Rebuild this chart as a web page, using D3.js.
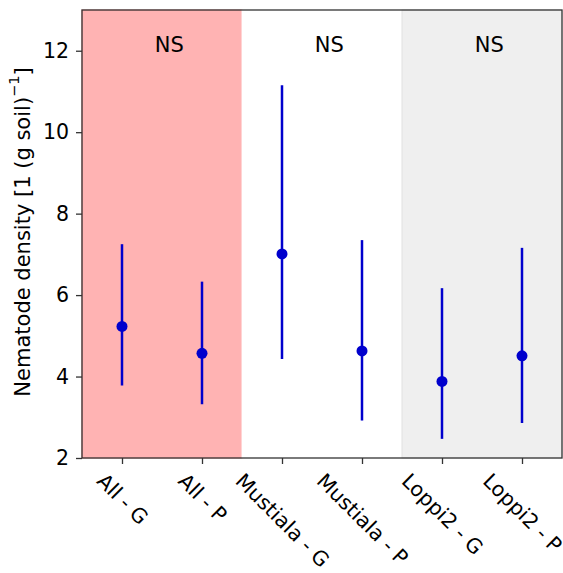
<!DOCTYPE html>
<html>
<head>
<meta charset="utf-8">
<script src="https://cdn.jsdelivr.net/npm/d3@7"></script>
<style>
  body { margin: 0; background: #fff; }
  text { font-family: "DejaVu Sans", sans-serif; fill: #000; }
</style>
</head>
<body>
<div id="chart"></div>
<script>
// data
const categories = ["All - G", "All - P", "Mustiala - G", "Mustiala - P", "Loppi2 - G", "Loppi2 - P"];
const means = [5.23, 4.57, 7.01, 4.63, 3.88, 4.51];
const lower = [3.78, 3.32, 4.43, 2.92, 2.47, 2.86];
const upper = [7.25, 6.33, 11.15, 7.35, 6.17, 7.16];
const groups = [
  { from: 0, to: 1, label: "NS", fill: "#ffb3b3", edge: "#ff9c9c" },
  { from: 2, to: 3, label: "NS", fill: "#ffffff", edge: "#ffffff" },
  { from: 4, to: 5, label: "NS", fill: "#efefef", edge: "#e2e2e2" }
];
const yTicks = [2, 4, 6, 8, 10, 12];

const W = 563, H = 573;
const margin = { top: 10, right: 1, bottom: 115, left: 82 };

const svg = d3.select("#chart").append("svg")
  .attr("width", W)
  .attr("height", H);

const x = d3.scaleLinear().domain([-0.5, 5.5]).range([margin.left, W - margin.right]);
const y = d3.scaleLinear().domain([2, 13]).range([H - margin.bottom, margin.top]);

// shaded spans
svg.selectAll(".span")
  .data(groups)
  .enter()
  .append("rect")
  .attr("x", d => x(d.from - 0.5))
  .attr("y", y(13))
  .attr("width", d => x(d.to + 0.5) - x(d.from - 0.5))
  .attr("height", y(2) - y(13))
  .attr("fill", d => d.fill)
  .attr("stroke", d => d.edge)
  .attr("stroke-width", 1);

// NS labels
svg.selectAll(".ns")
  .data(groups)
  .enter()
  .append("text")
  .attr("x", d => x((d.from + d.to) / 2 + 0.09))
  .attr("y", y(11.97))
  .attr("text-anchor", "middle")
  .style("font-size", "21px")
  .text(d => d.label);

// error bars
svg.selectAll(".err")
  .data(categories)
  .enter()
  .append("line")
  .attr("x1", (d, i) => x(i))
  .attr("x2", (d, i) => x(i))
  .attr("y1", (d, i) => y(lower[i]))
  .attr("y2", (d, i) => y(upper[i]))
  .attr("stroke", "#0000cd")
  .attr("stroke-width", 2.5);

svg.selectAll(".pt")
  .data(categories)
  .enter()
  .append("circle")
  .attr("cx", (d, i) => x(i))
  .attr("cy", (d, i) => y(means[i]))
  .attr("r", 5.5)
  .attr("fill", "#0000cd");

// axes
const yAxis = svg.append("g")
  .attr("transform", `translate(${margin.left},0)`)
  .call(d3.axisLeft(y).tickValues(yTicks).tickSize(6).tickPadding(7));

const xAxis = svg.append("g")
  .attr("transform", `translate(0,${H - margin.bottom})`)
  .call(d3.axisBottom(x).tickValues(d3.range(categories.length)).tickFormat(i => categories[i]).tickSize(6));

[yAxis, xAxis].forEach(g => {
  g.select(".domain").remove();
  g.selectAll(".tick line").attr("stroke", "#333").attr("stroke-width", 1.3);
  g.selectAll(".tick text").style("font-size", "20.5px").attr("fill", "#000");
});

// rotated x labels, bbox centered under tick
xAxis.selectAll(".tick text").each(function () {
  const t = d3.select(this);
  const len = this.getComputedTextLength();
  const half = (len + 15) / 2 * Math.SQRT1_2;
  const cy = 14 + half;
  t.attr("y", 0).attr("dy", null)
    .attr("text-anchor", "middle")
    .attr("dominant-baseline", "central")
    .attr("transform", `translate(0,${cy}) rotate(45)`);
});

// frame
svg.append("rect")
  .attr("x", x(-0.5))
  .attr("y", y(13))
  .attr("width", x(5.5) - x(-0.5))
  .attr("height", y(2) - y(13))
  .attr("fill", "none")
  .attr("stroke", "#333")
  .attr("stroke-width", 1.3);

// y label
svg.append("text")
  .attr("transform", `translate(23,${(y(2) + y(13)) / 2 - 2}) rotate(-90)`)
  .attr("text-anchor", "middle")
  .attr("dominant-baseline", "central")
  .style("font-size", "21px")
  .text("Nematode density [1 (g soil)")
  .append("tspan")
  .attr("dy", -9)
  .style("font-size", "14.5px")
  .text("\u22121")
  .clone(true)
  .attr("dy", 9)
  .style("font-size", "21px")
  .text("]");
</script>
</body>
</html>
